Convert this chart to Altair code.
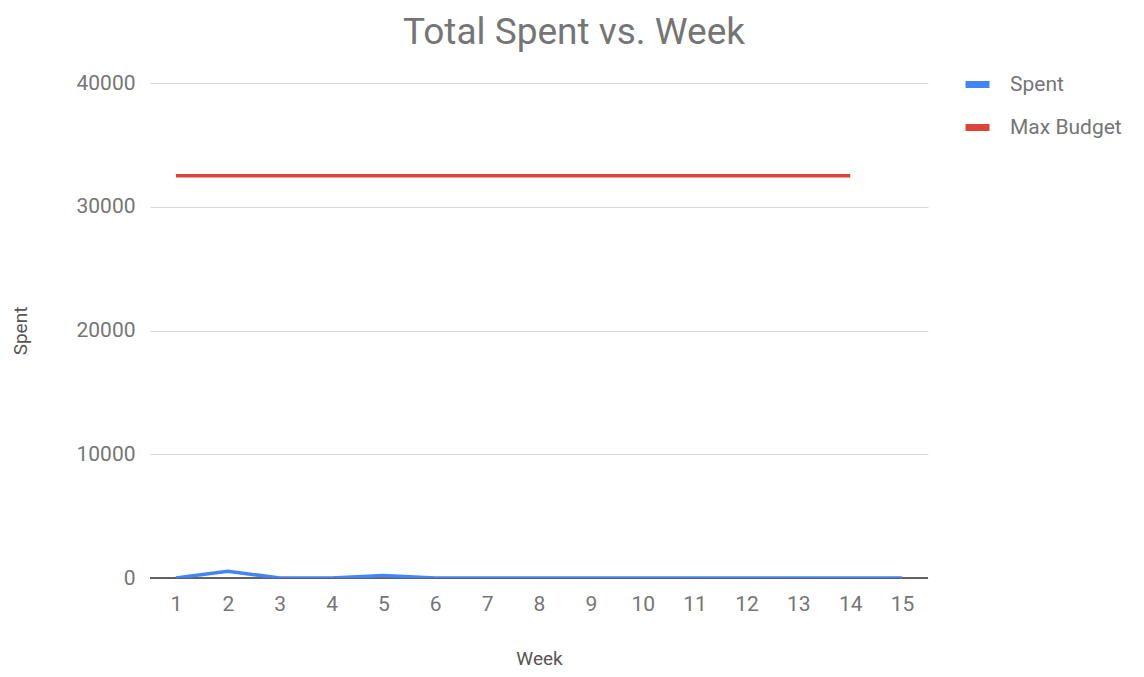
import altair as alt
import pandas as pd

weeks = list(range(1, 16))
spent = [0, 550, 0, 0, 200, 0, 0, 0, 0, 0, 0, 0, 0, 0, 0]
budget_weeks = list(range(1, 15))
max_budget = [32500] * 14
series_names = ["Spent", "Max Budget"]
series_colors = ["#4285f4", "#db4437"]
y_ticks = [0, 10000, 20000, 30000, 40000]

rows = [{"Week": w, "Value": v, "Series": "Spent"} for w, v in zip(weeks, spent)]
rows += [{"Week": w, "Value": v, "Series": "Max Budget"} for w, v in zip(budget_weeks, max_budget)]
df = pd.DataFrame(rows)

FONT = "Roboto"
GRAY = "#757575"

lines = alt.Chart(df).mark_line(strokeWidth=3.5, clip=True).encode(
    x=alt.X("Week:Q", scale=alt.Scale(domain=[0.5, 15.5], nice=False, zero=False),
            axis=alt.Axis(values=weeks, format="d", title="Week", grid=False, domain=False,
                          ticks=False, labelPadding=15, titlePadding=35)),
    y=alt.Y("Value:Q", scale=alt.Scale(domain=[0, 40000], nice=False),
            axis=alt.Axis(values=y_ticks, format="d", title="Spent", domain=False, ticks=False,
                          labelPadding=15, titlePadding=45, gridColor="#d9d9d9", gridWidth=1.2)),
    color=alt.Color("Series:N", scale=alt.Scale(domain=series_names, range=series_colors),
                    sort=series_names,
                    legend=alt.Legend(title=None, orient="none", legendX=812, legendY=-14,
                                      symbolType="stroke", symbolStrokeWidth=7, symbolSize=576,
                                      labelFontSize=21, labelColor=GRAY, labelFont=FONT,
                                      rowPadding=13, labelOffset=17)),
    detail="Series:N",
)

zero = alt.Chart(pd.DataFrame({"y": [0]})).mark_rule(color="#333333", strokeWidth=1.5).encode(
    y="y:Q", x=alt.value(0), x2=alt.value(778)
)

chart = alt.layer(zero, lines).properties(
    width=778,
    height=495,
    title=alt.TitleParams("Total Spent vs. Week", anchor="middle", dx=35, fontSize=37,
                          font=FONT, fontWeight="normal", color=GRAY, offset=17),
    autosize=alt.AutoSizeParams(type="none"),
    padding={"left": 142, "top": 75, "right": 208, "bottom": 90},
).configure_axis(
    labelFont=FONT, titleFont=FONT, labelFontSize=21, titleFontSize=19,
    labelColor=GRAY, titleColor="#555555", titleFontWeight="normal"
).configure_view(stroke=None)

chart.save("out.html", embed_options={"renderer": "svg", "actions": False})
